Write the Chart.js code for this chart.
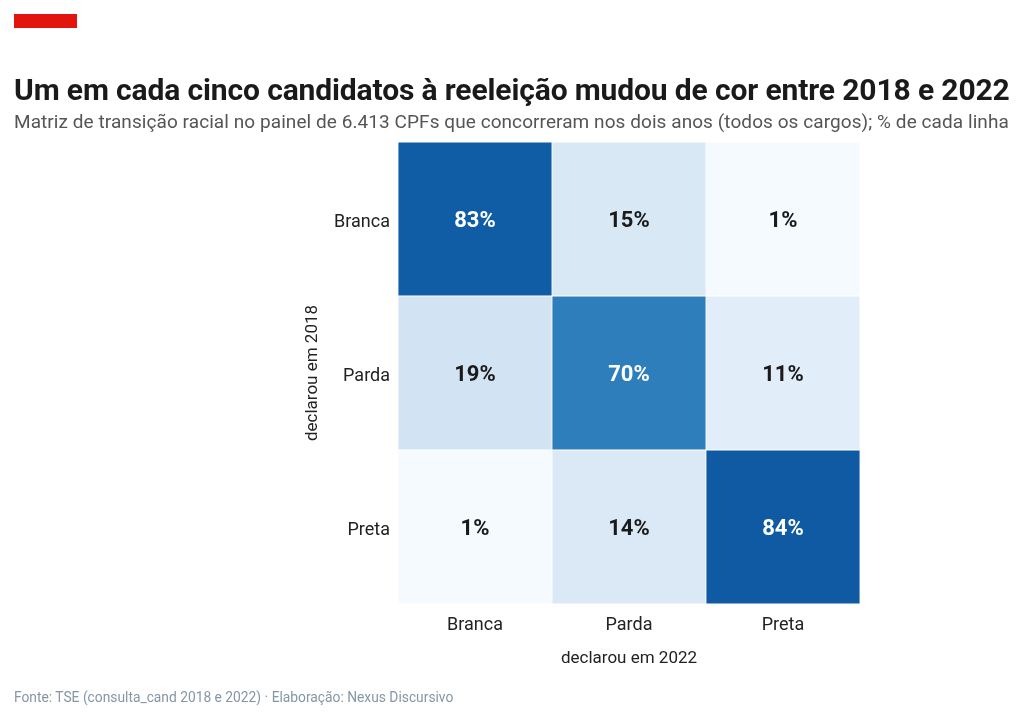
<!DOCTYPE html>
<html>
<head>
<meta charset="utf-8">
<script src="https://cdn.jsdelivr.net/npm/chart.js@4/dist/chart.umd.min.js"></script>
<style>
  html, body { margin: 0; padding: 0; background: #fff; }
  body { width: 1024px; height: 723px; position: relative; overflow: hidden; font-family: Roboto, "Noto Sans", sans-serif; }
  #bar { position: absolute; left: 14px; top: 14px; width: 63px; height: 14px; background: #e3140d; }
  #title { position: absolute; left: 14px; top: 72px; font-size: 30px; font-weight: 700; color: #1a1a1a; white-space: nowrap; letter-spacing: -0.13px; }
  #subtitle { position: absolute; left: 14px; top: 110px; font-size: 19px; color: #555; white-space: nowrap; letter-spacing: 0.07px; }
  #footer { position: absolute; left: 14px; top: 689px; font-size: 13.8px; color: #8596a6; white-space: nowrap; }
  #wrap { position: absolute; left: 0; top: 0; width: 1024px; height: 723px; }
</style>
</head>
<body>
<div id="wrap"><canvas id="chartCanvas"></canvas></div>
<div id="bar"></div>
<div id="title">Um em cada cinco candidatos à reeleição mudou de cor entre 2018 e 2022</div>
<div id="subtitle">Matriz de transição racial no painel de 6.413 CPFs que concorreram nos dois anos (todos os cargos); % de cada linha</div>
<div id="footer">Fonte: TSE (consulta_cand 2018 e 2022) · Elaboração: Nexus Discursivo</div>
<script>
"use strict";

// cor declarada em 2022 (colunas) e em 2018 (linhas)
const cols2022 = ["Branca", "Parda", "Preta"];
const rows2018 = ["Branca", "Parda", "Preta"];

// % de cada linha
const fromBranca = [83, 15, 1];
const fromParda = [19, 70, 11];
const fromPreta = [1, 14, 84];

// Blues colormap stops
const blues = ["#f7fbff", "#deebf7", "#c6dbef", "#9ecae1", "#6baed6", "#4292c6", "#2171b5", "#08519c", "#08306b"];

function hexToRgb(h) {
  return [parseInt(h.slice(1, 3), 16), parseInt(h.slice(3, 5), 16), parseInt(h.slice(5, 7), 16)];
}

function bluesColor(pct) {
  const t = Math.max(0, Math.min(1, pct / 100)) * (blues.length - 1);
  const i = Math.min(Math.floor(t), blues.length - 2);
  const f = t - i;
  const a = hexToRgb(blues[i]);
  const b = hexToRgb(blues[i + 1]);
  const c = a.map((v, k) => Math.round(v + (b[k] - v) * f));
  return `rgb(${c[0]}, ${c[1]}, ${c[2]})`;
}

// bottom row first so Branca ends on top
const rowsBottomUp = [
  { name: "Preta", values: fromPreta },
  { name: "Parda", values: fromParda },
  { name: "Branca", values: fromBranca },
];

const cellLabels = {
  id: "cellLabels",
  afterDatasetsDraw(chart) {
    const ctx = chart.ctx;
    ctx.save();
    ctx.font = "700 22px Roboto, 'Noto Sans', sans-serif";
    ctx.textAlign = "center";
    ctx.textBaseline = "middle";
    chart.data.datasets.forEach((ds, di) => {
      const meta = chart.getDatasetMeta(di);
      meta.data.forEach((el, i) => {
        const pct = ds.pct[i];
        ctx.fillStyle = pct > 50 ? "#ffffff" : "#1a1a1a";
        ctx.fillText(pct + "%", el.x, (el.y + el.base) / 2 + 2);
      });
    });
    ctx.restore();
  },
};

const ctx = document.getElementById("chartCanvas").getContext("2d");

new Chart(ctx, {
  type: "bar",
  data: {
    labels: cols2022,
    datasets: rowsBottomUp.map((r) => ({
      label: r.name,
      pct: r.values,
      data: r.values.map(() => 1),
      backgroundColor: r.values.map(bluesColor),
      borderColor: "rgba(255, 255, 255, 0.45)",
      borderWidth: 0.75,
      borderSkipped: false,
      barPercentage: 1,
      categoryPercentage: 1,
    })),
  },
  options: {
    responsive: true,
    maintainAspectRatio: false,
    animation: false,
    layout: { padding: { left: 298, right: 164, top: 142, bottom: 49 } },
    plugins: {
      legend: { display: false },
      tooltip: { enabled: false },
    },
    scales: {
      x: {
        stacked: true,
        grid: { display: false, drawTicks: false },
        border: { display: false },
        ticks: { color: "#222", font: { size: 18, family: "Roboto" }, padding: 11 },
        title: {
          display: true,
          text: "declarou em 2022",
          color: "#222",
          font: { size: 17, family: "Roboto" },
          padding: { top: 4, bottom: 5 },
        },
        afterFit(scale) {
          scale.height = 70;
        },
      },
      y: {
        stacked: true,
        min: 0,
        max: 3,
        grid: { display: false, drawTicks: false },
        border: { display: false },
        afterBuildTicks(scale) {
          scale.ticks = [0.5, 1.5, 2.5].map((v) => ({ value: v }));
        },
        ticks: {
          color: "#222",
          font: { size: 18, family: "Roboto" },
          padding: 8,
          labelOffset: 3,
          callback: (v) => rows2018[rows2018.length - 1 - Math.floor(v)],
        },
        title: {
          display: true,
          text: "declarou em 2018",
          color: "#222",
          font: { size: 17, family: "Roboto" },
          padding: { top: 5, bottom: 0 },
        },
        afterFit(scale) {
          scale.width = 100;
        },
      },
    },
  },
  plugins: [cellLabels],
});
</script>
</body>
</html>
